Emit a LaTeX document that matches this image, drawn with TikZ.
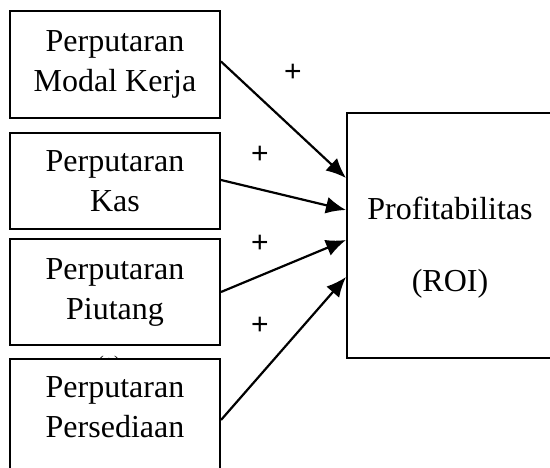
\documentclass[tikz,border=0pt]{standalone}
\usepackage{fontspec}
\setmainfont{Liberation Serif}
\newfontfamily\plusfont{Liberation Sans}
\usetikzlibrary{arrows.meta}
\tikzset{
  varbox/.style={draw, line width=2pt, minimum width=210pt, inner sep=0pt, align=center,
    font=\fontsize{32pt}{40pt}\selectfont},
  effect/.style={line width=2.2pt, -{Latex[length=20pt,width=17pt]}},
  sign/.style={font=\plusfont\fontsize{30pt}{34pt}\selectfont, inner sep=0pt}
}
\begin{document}
\begin{tikzpicture}[x=1pt,y=-1pt]
\useasboundingbox (0,0) rectangle (550,468);
\clip (0,0) rectangle (550,468);
% hidden label behind the last box
\node[font=\fontsize{18pt}{20pt}\selectfont] (hidden) at (109,364) {(+)};
\path
	(115,64.5) node[varbox, minimum height=107pt] (modal) {Perputaran\\Modal Kerja}
	(115,181) node[varbox, minimum height=96pt] (kas) {Perputaran\\Kas}
	(115,292) node[varbox, minimum height=106pt] (piutang) {Perputaran\\Piutang}
	(115,427.5) node[varbox, fill=white, minimum height=137pt] (persediaan) {Perputaran\\Persediaan\\\mbox{}}
	(450,235.5) node[draw, line width=2pt, minimum width=206pt, minimum height=245pt] (roi) {}
	(450,248) node[align=center, font=\fontsize{32pt}{72pt}\selectfont] (roitext) {Profitabilitas\\(ROI)};
\path
	(293,73) node[sign] (p1) {+}
	(260,155) node[sign] (p2) {+}
	(260,244) node[sign] (p3) {+}
	(260,326) node[sign] (p4) {+};
\draw[effect] ([yshift=3pt]modal.east) -- ([yshift=57.5pt]roi.west);
\draw[effect] ([yshift=1pt]kas.east) -- ([yshift=25.5pt]roi.west);
\draw[effect] (piutang.east) -- ([yshift=-4.5pt]roi.west);
\draw[effect] ([yshift=7.5pt]persediaan.east) -- ([yshift=-41.5pt]roi.west);
\end{tikzpicture}
\end{document}
